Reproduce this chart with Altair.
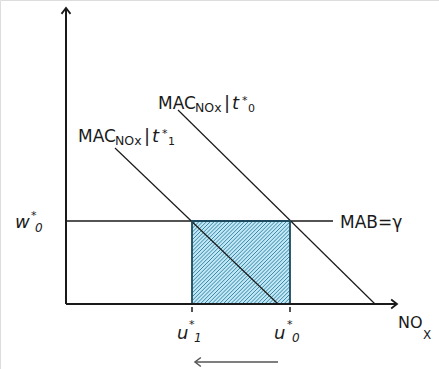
import altair as alt
import numpy as np
import pandas as pd

# ---- diagram values (abstract units) ----
gamma = 8.3                      # marginal abatement benefit level MAB = γ (w*_0)
u_star_1 = 12.6                  # emissions at t*_1
u_star_0 = 22.4                  # emissions at t*_0
mac_t0_x = [11.2, 30.9]          # MAC_NOx | t*_0 line end points
mac_t0_y = [19.4, 0.0]
mac_t1_x = [4.9, 21.2]           # MAC_NOx | t*_1 line end points
mac_t1_y = [15.6, 0.0]
axis_x_end = 33.1
axis_y_end = 29.6
mab_x_end = 26.7
shift_x = [21.2, 12.9]           # arrow showing the move from u*_0 to u*_1
shift_y = -5.8

FONT = "DejaVu Sans"
INK = "#1a1a1a"
xs = alt.Scale(domain=[-6.6, 37.3], nice=False, zero=False)
ys = alt.Scale(domain=[-6.5, 30.4], nice=False, zero=False)

def X(f="x"):
    return alt.X(f"{f}:Q", scale=xs, axis=None)

def Y(f="y"):
    return alt.Y(f"{f}:Q", scale=ys, axis=None)

def segment(xv, yv, color=INK, width=1.2):
    df = pd.DataFrame({"x": xv, "y": yv, "o": list(range(len(xv)))})
    return alt.Chart(df).mark_line(color=color, strokeWidth=width).encode(
        x=X(), y=Y(), order="o:Q")

def head(x, y, angle, color=INK, width=1.8):
    df = pd.DataFrame({"x": [x], "y": [y]})
    return alt.Chart(df).mark_point(
        shape="M-1,1.3L0,0L1,1.3", filled=False, size=81, angle=angle,
        stroke=color, strokeWidth=width, opacity=1).encode(x=X(), y=Y())

def piece(x, y, text, dx, dy, size, italic=False):
    df = pd.DataFrame({"x": [x], "y": [y], "t": [text]})
    kw = dict(align="left", baseline="alphabetic", dx=dx, dy=dy, font=FONT,
              fontSize=size, color=INK)
    if italic:
        kw["fontStyle"] = "italic"
    return alt.Chart(df).mark_text(**kw).encode(x=X(), y=Y(), text="t:N")

# ---- shaded rectangle with diagonal hatching ----
rect_df = pd.DataFrame({"x": [u_star_1], "x2": [u_star_0], "y": [0.0], "y2": [gamma]})
rect_fill = alt.Chart(rect_df).mark_rect(color="#c0e7f3").encode(
    x=X(), x2="x2:Q", y=Y(), y2="y2:Q")
rect_edge = alt.Chart(rect_df).mark_rect(
    fill=None, stroke="#1d4a5e", strokeWidth=1.8).encode(
    x=X(), x2="x2:Q", y=Y(), y2="y2:Q")

# hatch strokes: lines x - y = c, clipped to the rectangle
hatch_c = np.arange(u_star_1 - gamma, u_star_0, 0.38)
hatch = alt.Chart(pd.DataFrame({"c": hatch_c})).transform_calculate(
    xa=f"max({u_star_1}, datum.c)",
    ya="datum.xa - datum.c",
    xb=f"min({u_star_0}, datum.c + {gamma})",
    yb="datum.xb - datum.c",
).transform_filter("datum.xb > datum.xa").mark_rule(
    color="#3a88ab", strokeWidth=1.0).encode(
    x=X("xa"), y=Y("ya"), x2="xb:Q", y2="yb:Q")

# ---- axes with arrowheads ----
y_axis = segment([0, 0], [0, axis_y_end], width=2)
x_axis = segment([0, axis_x_end], [0, 0], width=2)
y_head = head(0, axis_y_end, 0)
x_head = head(axis_x_end, 0, 90)

tick_df = pd.DataFrame({"x": [u_star_1, u_star_0], "y": [-0.3, -0.3], "y2": [-0.8, -0.8]})
ticks = alt.Chart(tick_df).mark_rule(color=INK, strokeWidth=1.5).encode(
    x=X(), y=Y(), y2="y2:Q")

# ---- curves ----
mab = segment([0, mab_x_end], [gamma, gamma], width=1.4)
mac0 = segment(mac_t0_x, mac_t0_y)
mac1 = segment(mac_t1_x, mac_t1_y)

shift = segment(shift_x, [shift_y, shift_y], color="#555555", width=1.5)
shift_head = head(shift_x[1], shift_y, 270, color="#555555", width=1.5)

# ---- labels ----
labels = [
    # MAC_NOx | t*_0
    piece(9.2, 19.5, "MAC", 0, 0, 17),
    piece(9.2, 19.5, "NOx", 37, 3, 12.5),
    piece(9.2, 19.5, "|", 66, 0, 18),
    piece(9.2, 19.5, "t", 74, 0, 18, True),
    piece(9.2, 19.5, "*", 84, -5, 11),
    piece(9.2, 19.5, "0", 90, 3, 11),
    # MAC_NOx | t*_1
    piece(1.2, 16.2, "MAC", 0, 0, 17),
    piece(1.2, 16.2, "NOx", 37, 3, 12.5),
    piece(1.2, 16.2, "|", 66, 0, 18),
    piece(1.2, 16.2, "t", 74, 0, 18, True),
    piece(1.2, 16.2, "*", 84, -5, 11),
    piece(1.2, 16.2, "1", 90, 3, 11),
    # MAB = γ
    piece(mab_x_end, gamma, "MAB=γ", 7, 7, 17),
    # w*_0
    piece(0, gamma, "w", -51, 7, 18, True),
    piece(0, gamma, "*", -35, -2, 11),
    piece(0, gamma, "0", -31, 11, 12, True),
    # u*_1 and u*_0
    piece(u_star_1, 0, "u", -15, 35, 18, True),
    piece(u_star_1, 0, "*", -3, 24, 11),
    piece(u_star_1, 0, "1", 2, 38, 12, True),
    piece(u_star_0, 0, "u", -16, 35, 18, True),
    piece(u_star_0, 0, "*", -3, 24, 11),
    piece(u_star_0, 0, "0", 2, 38, 12, True),
    # NO_X
    piece(axis_x_end, 0, "NO", 1, 24, 16),
    piece(axis_x_end, 0, "X", 26, 35, 12),
]

chart = alt.layer(
    rect_fill, hatch, mab, mac1, mac0, rect_edge,
    y_axis, x_axis, y_head, x_head, ticks, shift, shift_head, *labels
).properties(
    width=439, height=369, padding=0,
    autosize=alt.AutoSizeParams(type="none"),
).configure_view(stroke=None).configure(background="white")

chart.save("out.html", embed_options={"renderer": "svg", "actions": False})
